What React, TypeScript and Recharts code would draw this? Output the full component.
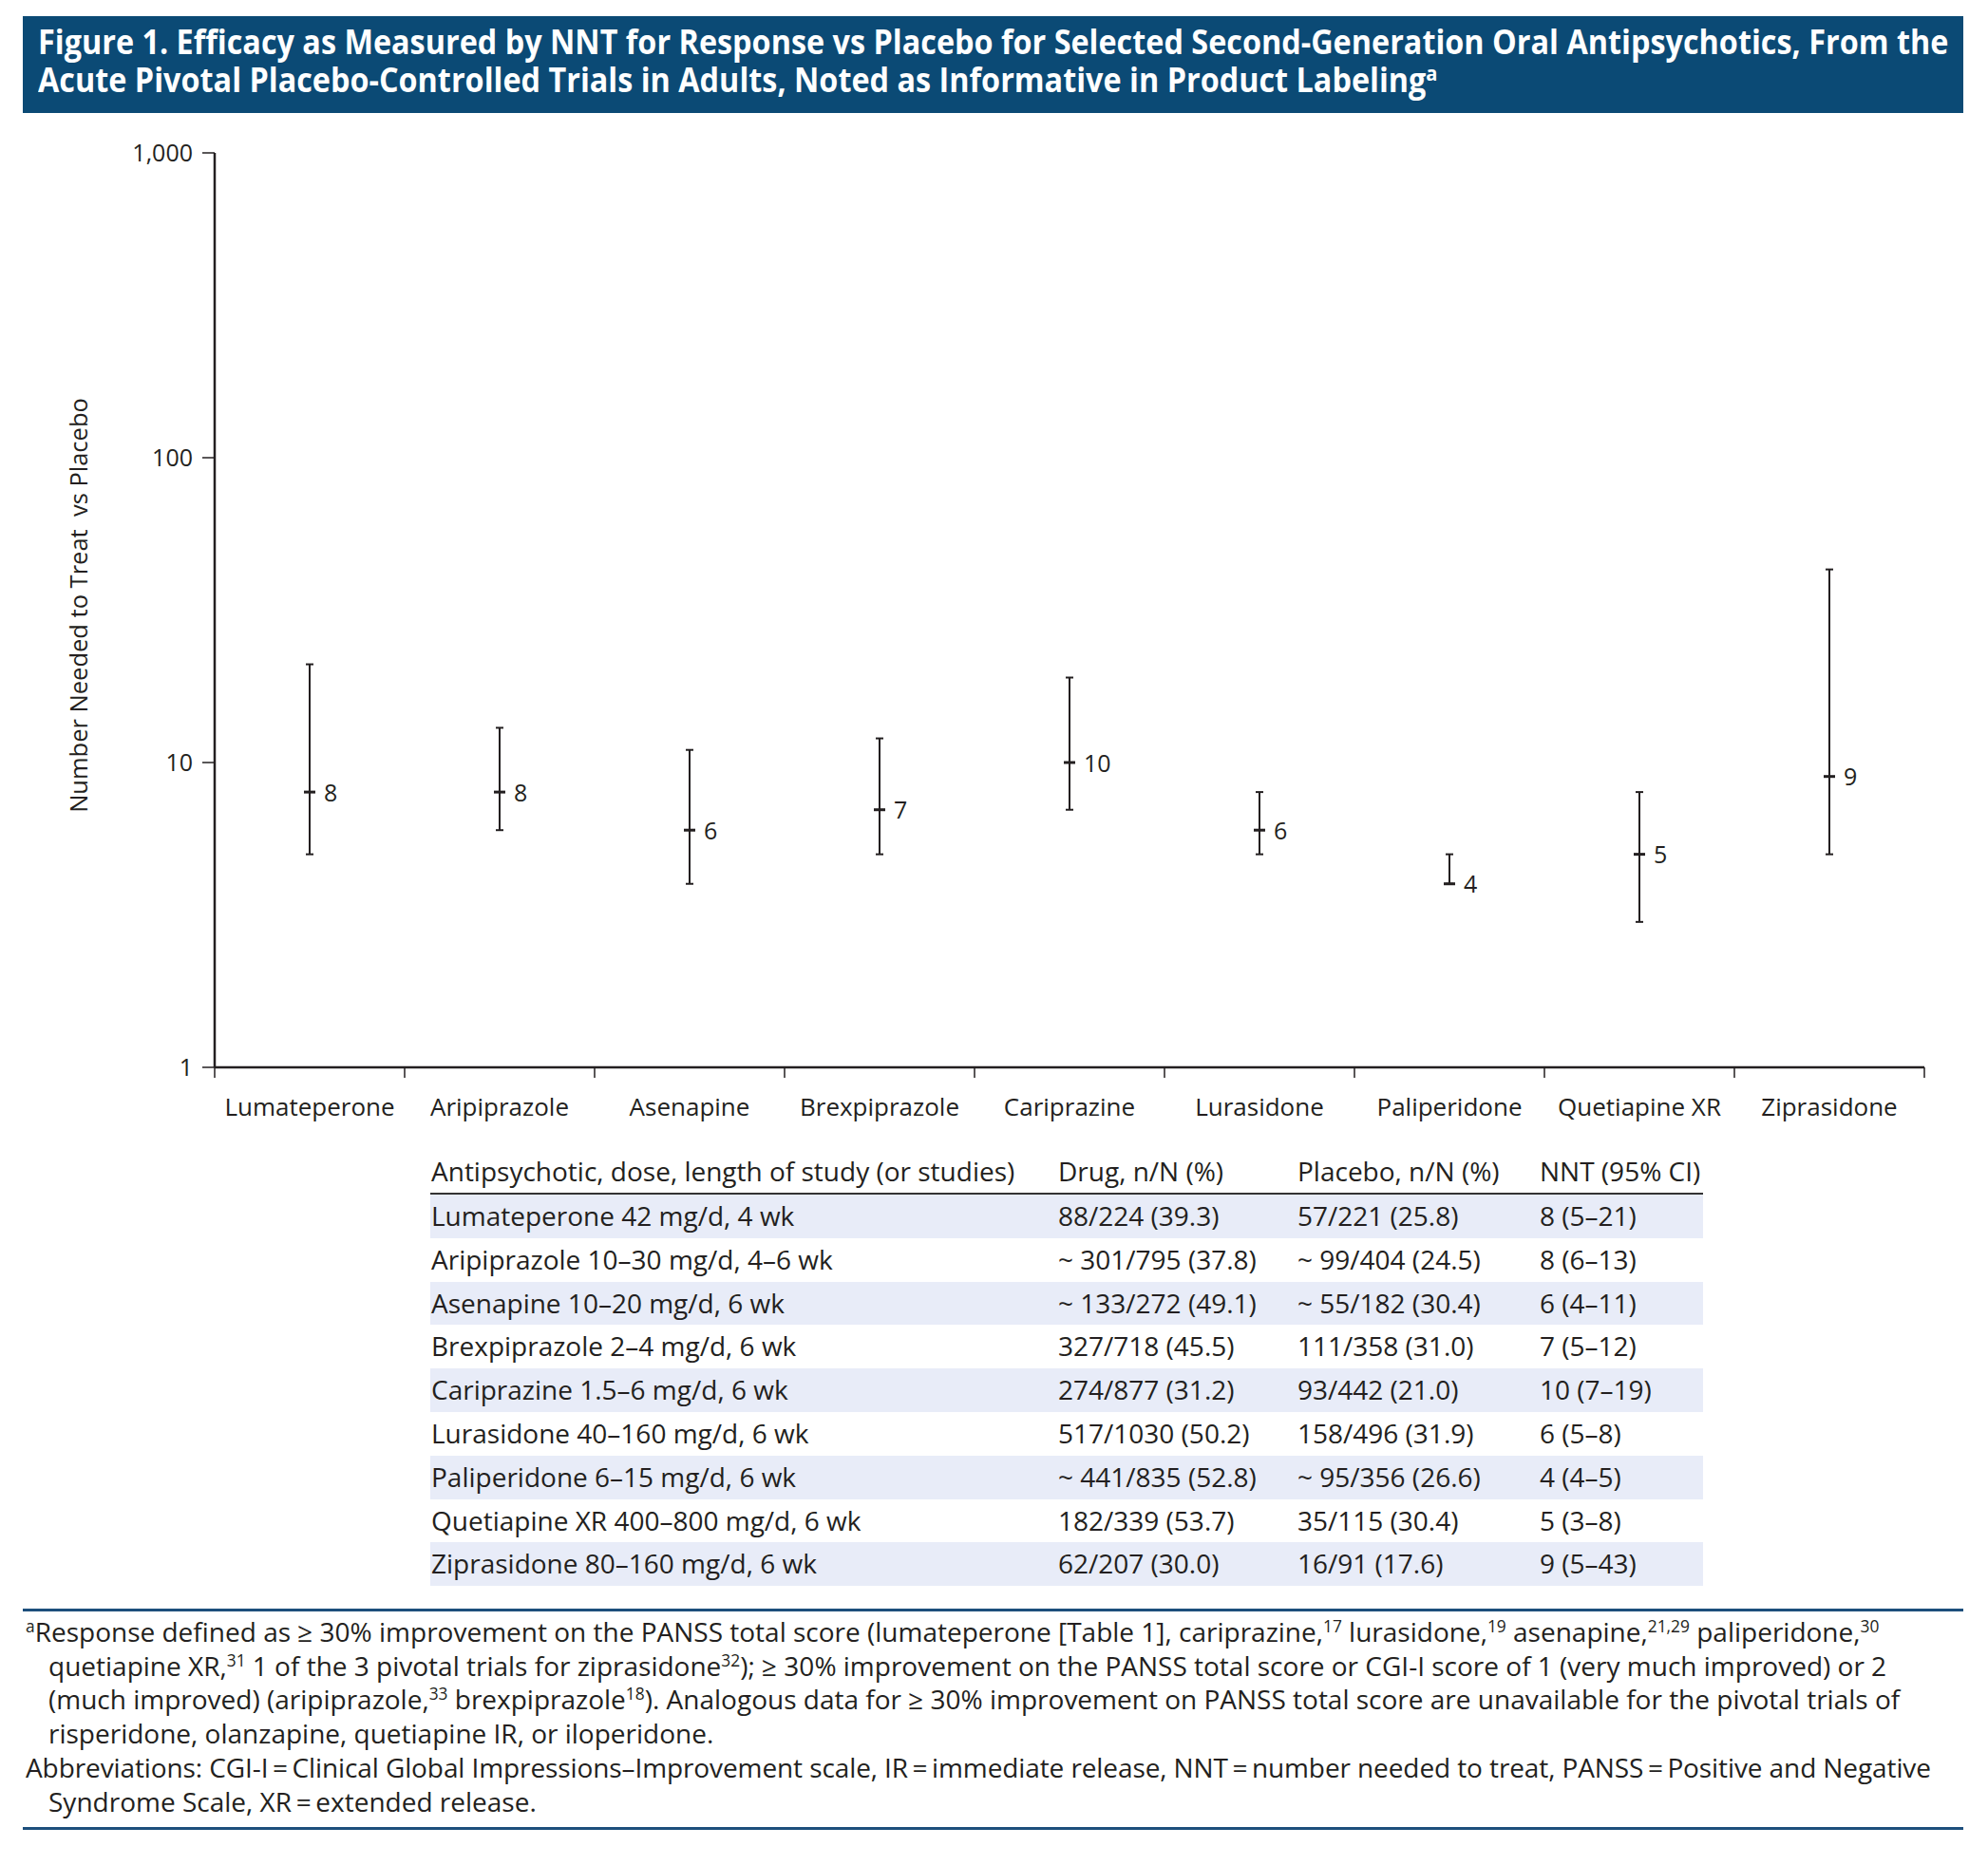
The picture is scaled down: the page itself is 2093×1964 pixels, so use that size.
import React from 'react'
import { ComposedChart, Scatter, ErrorBar, XAxis, YAxis } from 'recharts'

const INK = '#231f20'
const NAVY = '#0b4a75'
const ROW_TINT = '#e8ecf8'
const FONT = '"Open Sans", "Noto Sans", sans-serif'

// chart data
const drugs = [
  'Lumateperone',
  'Aripiprazole',
  'Asenapine',
  'Brexpiprazole',
  'Cariprazine',
  'Lurasidone',
  'Paliperidone',
  'Quetiapine XR',
  'Ziprasidone',
]
const nnt = [8, 8, 6, 7, 10, 6, 4, 5, 9]
const ciLow = [5, 6, 4, 5, 7, 5, 4, 3, 5]
const ciHigh = [21, 13, 11, 12, 19, 8, 5, 8, 43]
const yTicks = [1, 10, 100, 1000]

// table data
const studyLabels = [
  'Lumateperone 42 mg/d, 4 wk',
  'Aripiprazole 10–30 mg/d, 4–6 wk',
  'Asenapine 10–20 mg/d, 6 wk',
  'Brexpiprazole 2–4 mg/d, 6 wk',
  'Cariprazine 1.5–6 mg/d, 6 wk',
  'Lurasidone 40–160 mg/d, 6 wk',
  'Paliperidone 6–15 mg/d, 6 wk',
  'Quetiapine XR 400–800 mg/d, 6 wk',
  'Ziprasidone 80–160 mg/d, 6 wk',
]
const drugCounts = [
  '88/224 (39.3)',
  '~ 301/795 (37.8)',
  '~ 133/272 (49.1)',
  '327/718 (45.5)',
  '274/877 (31.2)',
  '517/1030 (50.2)',
  '~ 441/835 (52.8)',
  '182/339 (53.7)',
  '62/207 (30.0)',
]
const placeboCounts = [
  '57/221 (25.8)',
  '~ 99/404 (24.5)',
  '~ 55/182 (30.4)',
  '111/358 (31.0)',
  '93/442 (21.0)',
  '158/496 (31.9)',
  '~ 95/356 (26.6)',
  '35/115 (30.4)',
  '16/91 (17.6)',
]
const tableHeader = [
  'Antipsychotic, dose, length of study (or studies)',
  'Drug, n/N (%)',
  'Placebo, n/N (%)',
  'NNT (95% CI)',
]

const chartData = drugs.map((name, i) => ({
  name,
  pos: i + 0.5,
  nnt: nnt[i],
  err: [nnt[i] - ciLow[i], ciHigh[i] - nnt[i]],
}))

const Marker = (props: any) => {
  const { cx, cy, payload } = props
  if (cx == null || cy == null) return null
  return (
    <g>
      <line x1={cx - 6} x2={cx + 6} y1={cy} y2={cy} stroke={INK} strokeWidth={3} />
      <text x={cx + 15} y={cy} dy="0.38em" fontSize={25} fill={INK} fontFamily={FONT}>
        {payload.nnt}
      </text>
    </g>
  )
}

const YLabel = (props: any) => {
  const { viewBox } = props
  const x = viewBox.x - 64
  const y = viewBox.y + viewBox.height / 2 - 5
  return (
    <text
      x={x}
      y={y}
      transform={`rotate(-90, ${x}, ${y})`}
      textAnchor="middle"
      dominantBaseline="central"
      fontSize={25.5}
      fill={INK}
      fontFamily={FONT}
    >
      Number Needed to Treat{'\u00a0'} vs Placebo
    </text>
  )
}

const colX = [0, 660, 912, 1167]

const Sup = ({ children }: { children: React.ReactNode }) => (
  <sup style={{ fontSize: '0.62em', lineHeight: 0, verticalAlign: '0.55em' }}>{children}</sup>
)

const line: React.CSSProperties = { whiteSpace: 'nowrap', height: 35.5 }
const EQ = '\u2009=\u2009'

export default function App() {
  return (
    <div
      style={{
        position: 'absolute',
        left: 0,
        top: 0,
        width: 2093,
        height: 1964,
        background: '#fff',
        fontFamily: FONT,
        color: INK,
      }}
    >
      {/* title bar */}
      <div
        style={{
          position: 'absolute',
          left: 24,
          top: 17,
          width: 2043,
          height: 102,
          background: NAVY,
          color: '#fff',
          fontWeight: 700,
          fontSize: 35,
          lineHeight: '40px',
          boxSizing: 'border-box',
          padding: '6.5px 0 0 16px',
        }}
      >
        <div style={{ whiteSpace: 'nowrap', transform: 'scaleX(0.925)', transformOrigin: 'left' }}>
          Figure 1. Efficacy as Measured by NNT for Response vs Placebo for Selected Second-Generation Oral
          Antipsychotics, From the
          <br />
          Acute Pivotal Placebo-Controlled Trials in Adults, Noted as Informative in Product Labeling
          <Sup>a</Sup>
        </div>
      </div>

      {/* chart */}
      <div style={{ position: 'absolute', left: 0, top: 0 }}>
        <ComposedChart
          width={2093}
          height={1185}
          data={chartData}
          margin={{ top: 161, right: 67, left: 146, bottom: 0 }}
        >
          <XAxis
            xAxisId="b"
            dataKey="name"
            type="category"
            scale="band"
            interval={0}
            axisLine={false}
            tickLine={false}
            tickSize={0}
            tickMargin={22}
            height={50}
            tick={{ fontSize: 26, fill: INK, fontFamily: FONT }}
          />
          <XAxis
            xAxisId="a"
            type="number"
            dataKey="pos"
            domain={[0, drugs.length]}
            ticks={drugs.map((_, i) => i).concat(drugs.length)}
            interval={0}
            tickFormatter={() => ''}
            tickSize={11}
            height={11}
            axisLine={{ stroke: INK, strokeWidth: 2.5 }}
            tickLine={{ stroke: INK, strokeWidth: 1.5 }}
          />
          <YAxis
            dataKey="nnt"
            scale="log"
            domain={[1, 1000]}
            ticks={yTicks}
            allowDataOverflow
            width={80}
            tickSize={13}
            tickMargin={10}
            tickFormatter={(v: number) => v.toLocaleString('en-US')}
            tick={{ fontSize: 25, fill: INK, fontFamily: FONT }}
            axisLine={{ stroke: INK, strokeWidth: 2.5 }}
            tickLine={{ stroke: INK, strokeWidth: 1.5 }}
            label={(p: any) => <YLabel {...p} />}
          />
          <Scatter xAxisId="a" dataKey="nnt" data={chartData} shape={Marker} isAnimationActive={false}>
            <ErrorBar dataKey="err" direction="y" width={4} stroke={INK} strokeWidth={2} isAnimationActive={false} />
          </Scatter>
        </ComposedChart>
      </div>

      {/* table */}
      <div style={{ position: 'absolute', left: 453, top: 1210, width: 1340, fontSize: 28 }}>
        <div style={{ position: 'relative', height: 46, lineHeight: '46px' }}>
          {tableHeader.map((h, j) => (
            <span key={j} style={{ position: 'absolute', left: colX[j] + 1, whiteSpace: 'nowrap' }}>
              {h}
            </span>
          ))}
        </div>
        <div style={{ height: 2, background: '#333' }} />
        {studyLabels.map((s, i) => (
          <div
            key={i}
            style={{
              position: 'relative',
              height: 45.8,
              lineHeight: '45.8px',
              background: i % 2 === 0 ? ROW_TINT : '#fff',
            }}
          >
            {[s, drugCounts[i], placeboCounts[i], `${nnt[i]} (${ciLow[i]}–${ciHigh[i]})`].map((c, j) => (
              <span key={j} style={{ position: 'absolute', left: colX[j] + 1, whiteSpace: 'nowrap' }}>
                {c}
              </span>
            ))}
          </div>
        ))}
      </div>

      {/* footnotes */}
      <div style={{ position: 'absolute', left: 24, top: 1694, width: 2043, fontSize: 28, lineHeight: '35.5px' }}>
        <div style={{ height: 3, background: '#1d4f7c', marginBottom: 4 }} />
        <div style={{ ...line, paddingLeft: 3 }}>
          <Sup>a</Sup>Response defined as ≥ 30% improvement on the PANSS total score (lumateperone [Table 1], cariprazine,
          <Sup>17</Sup> lurasidone,<Sup>19</Sup> asenapine,<Sup>21,29</Sup> paliperidone,<Sup>30</Sup>
        </div>
        <div style={{ ...line, paddingLeft: 27 }}>
          quetiapine XR,<Sup>31</Sup> 1 of the 3 pivotal trials for ziprasidone<Sup>32</Sup>); ≥ 30% improvement on the
          PANSS total score or CGI-I score of 1 (very much improved) or 2
        </div>
        <div style={{ ...line, paddingLeft: 27 }}>
          (much improved) (aripiprazole,<Sup>33</Sup> brexpiprazole<Sup>18</Sup>). Analogous data for ≥ 30% improvement on
          PANSS total score are unavailable for the pivotal trials of
        </div>
        <div style={{ ...line, paddingLeft: 27 }}>risperidone, olanzapine, quetiapine IR, or iloperidone.</div>
        <div style={{ ...line, paddingLeft: 3, marginTop: 1, letterSpacing: -0.1 }}>
          Abbreviations: CGI-I{EQ}Clinical Global Impressions–Improvement scale, IR{EQ}immediate release, NNT{EQ}number
          needed to treat, PANSS{EQ}Positive and Negative
        </div>
        <div style={{ ...line, paddingLeft: 27 }}>Syndrome Scale, XR{EQ}extended release.</div>
        <div style={{ height: 3, background: '#1d4f7c', marginTop: 9 }} />
      </div>
    </div>
  )
}
